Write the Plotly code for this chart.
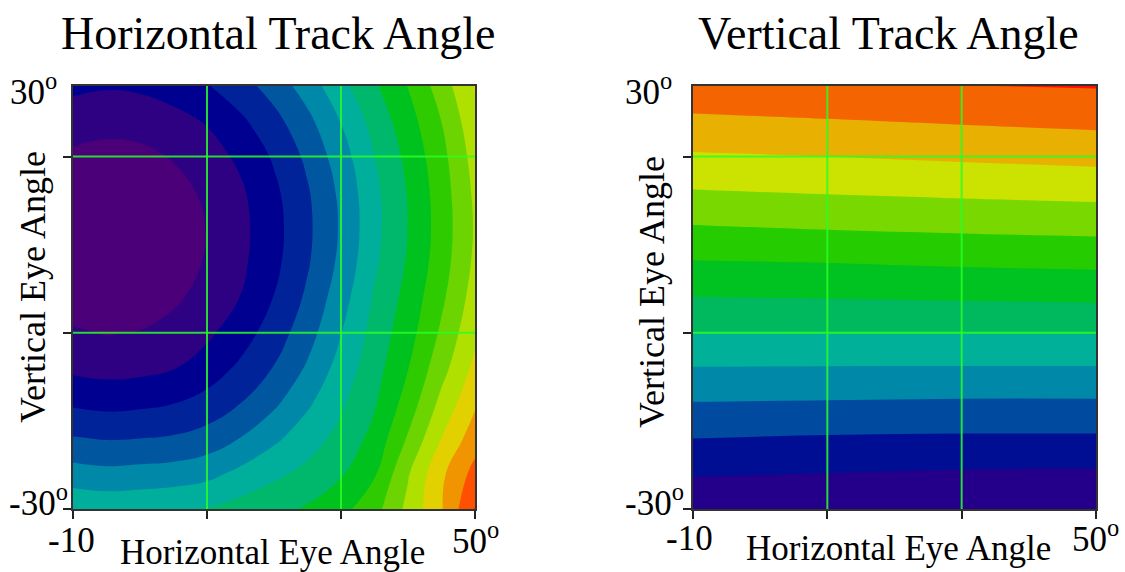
import plotly.graph_objects as go

# ---------------- data ----------------
h_eye = [-10, -5, 0, 5, 10, 15, 20, 25, 30, 35, 40, 45, 50]          # horizontal eye angle (deg)
v_eye = [-30, -25, -20, -15, -10, -5, 0, 5, 10, 15, 20, 25, 30]       # vertical eye angle (deg)

# Horizontal track angle, expressed as contour-band level (rows follow v_eye)
htrack_level = [
    [6.85, 6.72, 6.78, 6.90, 7.06, 7.40, 7.74, 8.12, 8.69, 9.63, 11.27, 12.92, 15.05],
    [5.43, 5.29, 5.37, 5.46, 5.71, 6.26, 6.79, 7.27, 7.90, 8.89, 10.91, 12.80, 14.35],
    [4.07, 3.94, 4.00, 4.11, 4.41, 5.03, 5.80, 6.57, 7.31, 8.32, 10.11, 12.01, 13.55],
    [2.85, 2.71, 2.79, 2.98, 3.36, 4.00, 4.81, 5.84, 6.85, 7.90, 9.44, 11.29, 12.85],
    [1.78, 1.66, 1.73, 1.95, 2.47, 3.19, 4.05, 5.13, 6.41, 7.60, 8.97, 10.64, 12.25],
    [1.11, 0.95, 1.04, 1.35, 1.80, 2.54, 3.48, 4.59, 5.97, 7.37, 8.60, 10.17, 11.80],
    [0.54, 0.38, 0.47, 0.82, 1.38, 2.02, 3.03, 4.18, 5.57, 7.12, 8.34, 9.80, 11.45],
    [0.23, 0.07, 0.16, 0.50, 1.09, 1.79, 2.74, 3.89, 5.24, 6.84, 8.11, 9.54, 11.20],
    [0.17, 0.01, 0.10, 0.44, 1.03, 1.73, 2.66, 3.80, 5.12, 6.71, 8.02, 9.45, 11.10],
    [0.37, 0.21, 0.30, 0.63, 1.20, 1.85, 2.79, 3.90, 5.22, 6.77, 8.07, 9.51, 11.20],
    [0.82, 0.67, 0.75, 1.08, 1.56, 2.20, 3.13, 4.22, 5.53, 7.01, 8.26, 9.69, 11.40],
    [1.47, 1.34, 1.42, 1.67, 2.08, 2.81, 3.68, 4.73, 6.04, 7.37, 8.58, 10.01, 11.70],
    [2.23, 2.09, 2.17, 2.46, 2.93, 3.60, 4.42, 5.47, 6.71, 7.87, 9.03, 10.49, 12.10],
]

# Vertical track angle (deg); columns follow vt_h_eye, rows follow v_eye
vt_h_eye = [-10, 10, 30, 50]
vtrack = [
    [-29.2, -29.8, -30.5, -30.8],
    [-24.6, -25.1, -25.6, -25.8],
    [-20.0, -20.5, -20.7, -20.7],
    [-15.2, -15.45, -15.7, -15.7],
    [-10.2, -10.27, -10.3, -10.3],
    [-4.9, -4.8, -4.8, -4.77],
    [-0.1, 0.15, 0.5, 0.82],
    [4.7, 5.1, 5.7, 6.13],
    [9.7, 10.4, 10.95, 11.43],
    [14.7, 15.37, 15.96, 16.47],
    [19.4, 20.0, 20.75, 21.44],
    [24.0, 24.67, 25.45, 26.2],
    [28.5, 29.35, 29.9, 30.3],
]

htrack_colors = ["#4b0079", "#2e0082", "#000090", "#00239a", "#0057a0", "#0088a8",
                 "#00ae9c", "#00b86c", "#00c21e", "#2ecb00", "#6cd400", "#b0e000",
                 "#e3d000", "#f09400", "#fd5000", "#ff1000"]
vtrack_colors = ["#24008a", "#000e94", "#004aa0", "#0088a8", "#00b098", "#00b85e",
                 "#00c220", "#24cc00", "#78d800", "#cce200", "#e8b000", "#f46400", "#ff1000"]

x_ticks = [-10, 10, 30, 50]
y_ticks = [-30, -5, 20]
grid_x = [10, 30]
grid_y = [20, -5]

FONT = "Liberation Serif"
W, H = 1125, 572


def cscale(cols):
    n = len(cols) - 1
    return [[i / n, c] for i, c in enumerate(cols)]


fig = go.Figure()
fig.add_trace(go.Contour(
    x=h_eye, y=v_eye, z=htrack_level, xaxis="x", yaxis="y",
    colorscale=cscale(htrack_colors), showscale=False,
    autocontour=False,
    contours=dict(start=1, end=15, size=1, coloring="fill", showlines=False),
    line=dict(width=0, smoothing=1.3), hoverinfo="skip",
))
fig.add_trace(go.Contour(
    x=vt_h_eye, y=v_eye, z=vtrack, xaxis="x2", yaxis="y2",
    colorscale=cscale(vtrack_colors), showscale=False,
    autocontour=False,
    contours=dict(start=-25, end=30, size=5, coloring="fill", showlines=False),
    line=dict(width=0, smoothing=1.0), hoverinfo="skip",
))

ydom = [1 - 509 / H, 1 - 86 / H]
axis_common = dict(showgrid=False, zeroline=False, showticklabels=False,
                   ticks="outside", ticklen=8, tickwidth=2, tickcolor="#222",
                   showline=True, linecolor="#333", linewidth=2, mirror=True)
fig.update_layout(
    width=W, height=H, margin=dict(l=0, r=0, t=0, b=0),
    paper_bgcolor="white", plot_bgcolor="white", showlegend=False,
    xaxis=dict(domain=[73 / W, 475 / W], range=[-10, 50], tickvals=x_ticks, **axis_common),
    yaxis=dict(domain=ydom, range=[-30, 30], tickvals=y_ticks, **axis_common),
    xaxis2=dict(domain=[693 / W, 1096 / W], range=[-10, 50], tickvals=x_ticks,
                anchor="y2", **axis_common),
    yaxis2=dict(domain=ydom, range=[-30, 30], tickvals=y_ticks, anchor="x2", **axis_common),
)

shapes = []
for xr, yr in (("x", "y"), ("x2", "y2")):
    for gx in grid_x:
        shapes.append(dict(type="line", xref=xr, yref=yr + " domain", x0=gx, x1=gx, y0=0, y1=1,
                           line=dict(color="rgba(40,255,40,0.85)", width=2), layer="above"))
    for gy in grid_y:
        shapes.append(dict(type="line", xref=xr + " domain", yref=yr, x0=0, x1=1, y0=gy, y1=gy,
                           line=dict(color="rgba(40,255,40,0.85)", width=2), layer="above"))
fig.update_layout(shapes=shapes)


def ann(text, px, py, size, xanchor="center", yanchor="middle", textangle=0):
    fig.add_annotation(text=text, x=px / W, y=1 - py / H, xref="paper", yref="paper",
                       showarrow=False, xanchor=xanchor, yanchor=yanchor, textangle=textangle,
                       font=dict(family=FONT, size=size, color="black"))


deg = "<sup>o</sup>"
# titles
ann("Horizontal Track Angle", 278, 33, 46)
ann("Vertical Track Angle", 888.5, 33, 46)
# x-axis titles
ann("Horizontal Eye Angle", 272.5, 552, 35)
ann("Horizontal Eye Angle", 898, 548, 35)
# y-axis titles
ann("Vertical Eye Angle", 33, 287, 36, textangle=-90)
ann("Vertical Eye Angle", 652, 292, 36, textangle=-90)
# tick labels
ann("30" + deg, 8, 90, 35, xanchor="left")
ann("-30" + deg, 7, 500, 35, xanchor="left")
ann("-10", 71.5, 540, 35)
ann("50" + deg, 475.5, 538, 35)
ann("30" + deg, 623, 90, 35, xanchor="left")
ann("-30" + deg, 623, 500, 35, xanchor="left")
ann("-10", 689.5, 538, 35)
ann("50" + deg, 1095, 536, 35)

fig.write_html("out.html", config={"displayModeBar": False},
               post_script="document.body.style.margin='0px';"
               "document.documentElement.style.overflow='hidden';")
